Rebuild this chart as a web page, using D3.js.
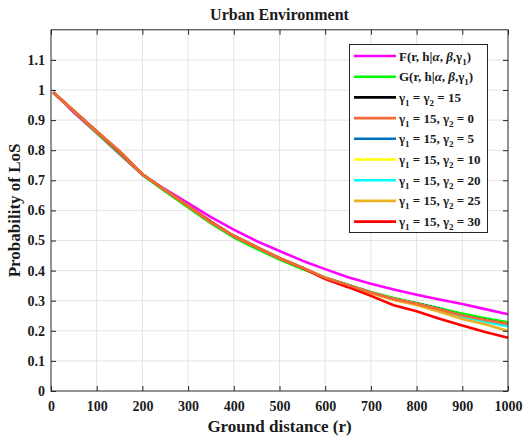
<!DOCTYPE html>
<html>
<head>
<meta charset="utf-8">
<script src="https://cdn.jsdelivr.net/npm/d3@7"></script>
<style>
  body { margin: 0; background: #fff; }
  text { font-family: "Liberation Serif", "Times New Roman", serif; font-weight: bold; fill: #1a1a1a; }
</style>
</head>
<body>
<svg id="chart" width="523" height="438"></svg>
<script>
// ground distance samples (r)
const distance = [5, 50, 100, 150, 200, 250, 300, 350, 400, 450, 500, 550, 600, 650, 700, 750, 800, 850, 900, 950, 1000];

// analytic curves
const fCurve = [0.993, 0.925, 0.857, 0.787, 0.718, 0.670, 0.624, 0.578, 0.536, 0.498, 0.465, 0.433, 0.405, 0.378, 0.356, 0.337, 0.320, 0.304, 0.289, 0.272, 0.255];
const gCurve = [0.992, 0.928, 0.858, 0.790, 0.718, 0.663, 0.610, 0.557, 0.510, 0.472, 0.437, 0.405, 0.377, 0.352, 0.329, 0.309, 0.292, 0.275, 0.257, 0.242, 0.228];

// simulated curves
const gammaEq15 = [0.992, 0.930, 0.862, 0.795, 0.720, 0.667, 0.615, 0.562, 0.515, 0.478, 0.441, 0.410, 0.376, 0.352, 0.327, 0.306, 0.291, 0.272, 0.250, 0.236, 0.222];
const gamma2_0  = [0.992, 0.930, 0.862, 0.797, 0.720, 0.667, 0.615, 0.560, 0.515, 0.478, 0.441, 0.410, 0.376, 0.352, 0.327, 0.306, 0.290, 0.271, 0.251, 0.236, 0.223];
const gamma2_5  = [0.992, 0.930, 0.862, 0.795, 0.720, 0.667, 0.615, 0.562, 0.515, 0.478, 0.441, 0.410, 0.376, 0.352, 0.327, 0.306, 0.291, 0.272, 0.250, 0.236, 0.222];
const gamma2_10 = [0.992, 0.930, 0.862, 0.795, 0.720, 0.667, 0.615, 0.562, 0.515, 0.478, 0.441, 0.410, 0.376, 0.352, 0.327, 0.306, 0.290, 0.271, 0.249, 0.234, 0.220];
const gamma2_20 = [0.992, 0.930, 0.862, 0.795, 0.720, 0.667, 0.615, 0.562, 0.515, 0.478, 0.441, 0.410, 0.376, 0.352, 0.327, 0.305, 0.288, 0.268, 0.246, 0.230, 0.215];
const gamma2_25 = [0.992, 0.930, 0.862, 0.795, 0.720, 0.667, 0.615, 0.562, 0.515, 0.478, 0.441, 0.410, 0.376, 0.350, 0.325, 0.302, 0.286, 0.263, 0.239, 0.222, 0.199];
const gamma2_30 = [0.992, 0.930, 0.862, 0.795, 0.720, 0.667, 0.615, 0.562, 0.515, 0.478, 0.441, 0.409, 0.372, 0.345, 0.316, 0.285, 0.265, 0.240, 0.218, 0.196, 0.177];

const xTicks = [0, 100, 200, 300, 400, 500, 600, 700, 800, 900, 1000];
const yTicks = [0, 0.1, 0.2, 0.3, 0.4, 0.5, 0.6, 0.7, 0.8, 0.9, 1, 1.1];

// legend order; "_n" marks a subscript
const series = [
  {label: "F(r, h|α, β,γ_1)", color: "#ff00ff", values: fCurve, order: 0},
  {label: "G(r, h|α, β,γ_1)", color: "#00ff00", values: gCurve, order: 1},
  {label: "γ_1 = γ_2 = 15", color: "#000000", values: gammaEq15, order: 2},
  {label: "γ_1 = 15, γ_2 = 0", color: "#f26b38", values: gamma2_0, order: 8},
  {label: "γ_1 = 15, γ_2 = 5", color: "#0072bd", values: gamma2_5, order: 3},
  {label: "γ_1 = 15, γ_2 = 10", color: "#ffff00", values: gamma2_10, order: 4},
  {label: "γ_1 = 15, γ_2 = 20", color: "#00ffff", values: gamma2_20, order: 5},
  {label: "γ_1 = 15, γ_2 = 25", color: "#edb120", values: gamma2_25, order: 6},
  {label: "γ_1 = 15, γ_2 = 30", color: "#ff0000", values: gamma2_30, order: 7}
];

const svg = d3.select("#chart");
const x = d3.scaleLinear().domain([0, 1000]).range([51, 508]);
const y = d3.scaleLinear().domain([0, 1.2]).range([391, 29.8]);

// grid
svg.append("g")
  .selectAll("line")
  .data(xTicks.slice(1, -1))
  .join("line")
  .attr("x1", d => x(d)).attr("x2", d => x(d))
  .attr("y1", y(0)).attr("y2", y(1.2))
  .attr("stroke", "#e3e3e3").attr("stroke-width", 1);
svg.append("g")
  .selectAll("line")
  .data(yTicks.slice(1))
  .join("line")
  .attr("x1", x(0)).attr("x2", x(1000))
  .attr("y1", d => y(d)).attr("y2", d => y(d))
  .attr("stroke", "#e3e3e3").attr("stroke-width", 1);

// curves
const line = d3.line()
  .x((d, i) => x(distance[i]))
  .y(d => y(d));

svg.append("g")
  .selectAll("path")
  .data(series.slice().sort((a, b) => a.order - b.order))
  .join("path")
  .attr("d", d => line(d.values))
  .attr("fill", "none")
  .attr("stroke", d => d.color)
  .attr("stroke-width", 2.6)
  .attr("stroke-linejoin", "round");

// axes, ticks point inwards like matlab
function styleAxis(g) {
  g.select(".domain").remove();
  g.selectAll(".tick line").attr("stroke", "#262626");
  g.selectAll(".tick text").style("font-size", "14px").attr("fill", "#1a1a1a");
}
svg.append("g")
  .attr("transform", `translate(0,${y(0)})`)
  .call(d3.axisBottom(x).tickValues(xTicks).tickSize(-5).tickPadding(10).tickFormat(d3.format("d")))
  .call(styleAxis);
svg.append("g")
  .attr("transform", `translate(0,${y(1.2)})`)
  .call(d3.axisTop(x).tickValues(xTicks).tickSize(-5).tickFormat(""))
  .call(styleAxis);
svg.append("g")
  .attr("transform", `translate(${x(0)},0)`)
  .call(d3.axisLeft(y).tickValues(yTicks).tickSize(-5).tickPadding(6).tickFormat(d => d3.format("~g")(d)))
  .call(styleAxis);
svg.append("g")
  .attr("transform", `translate(${x(1000)},0)`)
  .call(d3.axisRight(y).tickValues(yTicks).tickSize(-5).tickFormat(""))
  .call(styleAxis);

svg.append("rect")
  .attr("x", x(0)).attr("y", y(1.2))
  .attr("width", x(1000) - x(0)).attr("height", y(0) - y(1.2))
  .attr("fill", "none").attr("stroke", "#262626").attr("stroke-width", 1);

// titles
svg.append("text")
  .attr("x", (x(0) + x(1000)) / 2).attr("y", 20)
  .attr("text-anchor", "middle").style("font-size", "16px")
  .text("Urban Environment");
svg.append("text")
  .attr("x", (x(0) + x(1000)) / 2).attr("y", 432)
  .attr("text-anchor", "middle").style("font-size", "17px")
  .text("Ground distance (r)");
svg.append("text")
  .attr("transform", `translate(20,${(y(0) + y(1.2)) / 2}) rotate(-90)`)
  .attr("text-anchor", "middle").style("font-size", "17px")
  .text("Probability of LoS");

// legend
const lg = svg.append("g");
lg.append("rect")
  .attr("x", 349.5).attr("y", 44.5).attr("width", 138).attr("height", 188)
  .attr("fill", "#fff").attr("stroke", "#262626").attr("stroke-width", 1);

const rowY = i => 56 + i * 20.7;
series.forEach((s, i) => {
  lg.append("line")
    .attr("x1", 354).attr("x2", 396)
    .attr("y1", rowY(i)).attr("y2", rowY(i))
    .attr("stroke", s.color).attr("stroke-width", 2.6);
  const t = lg.append("text")
    .attr("x", 399).attr("y", rowY(i) + 4.5)
    .style("font-size", "13px");
  // split into plain / greek / subscript pieces
  let shift = 0;
  s.label.split(/(_\d|[αβγ])/).filter(p => p.length).forEach(p => {
    const ts = t.append("tspan");
    if (p[0] === "_") {
      ts.attr("dy", 4 - shift).style("font-size", "9px").text(p.slice(1));
      shift = 4;
      return;
    }
    if (shift) { ts.attr("dy", -shift); shift = 0; }
    if (p === "α" || p === "β") ts.style("font-style", "italic");
    ts.text(p);
  });
});
</script>
</body>
</html>
